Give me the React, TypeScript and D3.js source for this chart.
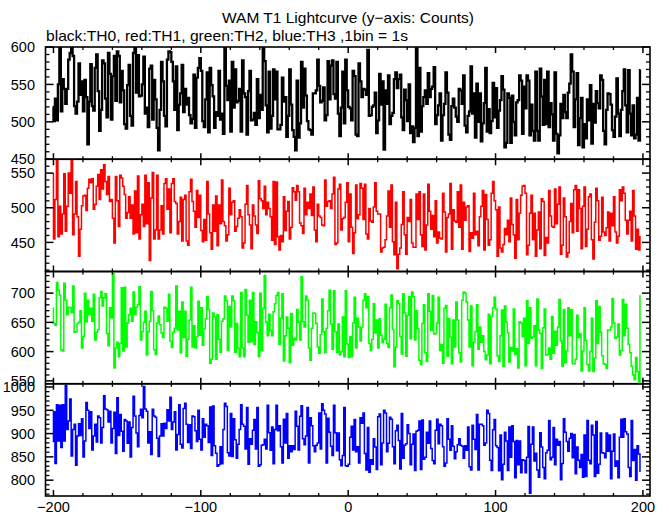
import React from 'react';
import * as d3 from 'd3';

// ---- data (1 s bins, first bin starts at -201 s) ----
const binStart = -201;
const binWidth = 1;

const th0 = [
520,501,531,502,550,600,514,557,544,524, 544,583,592,600,588,521,511,527,578,536,
554,514,556,533,470,527,577,521,515,572, 590,541,488,516,582,578,531,506,592,564,
503,561,588,528,594,588,526,568,542,497, 491,549,576,508,495,592,600,539,589,534,
535,550,587,511,519,493,571,575,503,556, 530,492,462,516,580,554,508,494,583,594,
593,580,554,516,574,489,523,538,576,513, 544,523,532,509,498,504,563,492,559,572,
585,568,501,493,530,566,486,572,549,534, 492,513,508,568,503,511,484,600,548,529,
555,487,580,519,570,526,528,544,487,582, 538,533,483,541,568,502,503,512,496,557,
505,536,516,598,581,522,486,567,491,508, 570,530,567,490,490,496,559,527,533,480,
508,570,523,489,480,462,555,479,498,580, 519,571,535,501,490,489,483,538,538,542,
583,548,526,528,546,502,509,581,530,575, 582,537,531,580,511,481,519,567,498,583,
542,520,518,502,568,561,483,481,578,554, 533,544,543,536,596,508,509,520,522,539,
485,502,564,523,554,463,542,524,562,497, 508,512,557,566,545,557,563,506,489,543,
529,501,550,485,494,473,492,598,481,572, 487,521,533,542,524,565,533,544,547,573,
497,509,522,538,475,509,524,566,539,483, 476,521,531,519,507,500,544,542,524,562,
495,486,508,514,574,511,538,479,551,500, 538,474,498,525,572,487,517,485,501,552,
506,545,492,515,529,561,543,466,472,538, 532,472,535,500,482,526,529,562,555,484,
547,518,562,555,482,523,488,475,567,488, 475,571,534,496,556,497,567,493,525,510,
475,566,484,458,482,524,505,536,513,505, 539,551,590,567,493,530,565,469,505,532,
466,497,478,530,502,549,471,524,499,541, 525,518,562,556,488,470,516,538,537,523,
489,480,507,558,511,481,516,541,570,522, 486,569,511,482,522,478,483,532,475,569,
];

const th1 = [
549,455,512,570,458,502,462,491,549,466, 502,550,521,570,461,491,538,487,430,469,
503,517,518,496,528,541,536,542,498,505, 531,548,512,555,527,562,538,519,545,509,
512,485,449,545,510,473,547,543,531,519, 485,493,516,485,504,462,524,464,546,455,
490,505,473,547,477,536,424,514,551,455, 468,547,455,468,503,462,535,542,498,527,
464,535,542,509,506,462,480,515,452,512, 518,452,446,523,541,509,495,472,525,486,
518,467,451,483,453,538,491,464,440,504, 466,517,445,504,477,540,480,474,452,461,
528,490,508,510,466,473,485,497,487,442, 449,505,532,490,475,441,504,488,475,463,
539,513,510,499,531,490,508,499,487,453, 538,447,537,458,439,460,451,516,467,495,
509,455,472,529,523,511,532,523,478,474, 463,528,490,508,499,520,489,530,468,451,
505,488,486,475,474,540,502,509,510,499, 520,544,447,449,527,534,468,484,486,508,
536,451,520,472,434,464,533,484,490,535, 528,483,534,462,455,499,481,479,501,536,
495,491,491,436,442,443,454,488,524,472, 533,451,432,508,412,433,442,476,523,461,
433,486,480,512,449,443,443,520,483,523, 461,444,520,439,475,534,495,469,489,458,
510,449,465,456,455,521,494,436,486,491, 535,440,497,481,479,523,472,533,440,508,
482,501,503,437,464,456,521,461,466,445, 487,502,525,439,519,483,446,454,521,538,
510,497,430,501,442,436,447,470,461,482, 451,514,476,461,427,512,454,492,518,531,
532,521,432,446,492,518,454,492,430,468, 494,441,513,509,431,457,449,525,488,473,
472,527,477,505,530,433,446,514,487,429, 435,480,506,464,526,532,466,526,499,441,
502,530,444,469,516,520,454,426,479,528, 510,453,459,515,465,460,471,494,452,492,
474,516,465,449,459,526,510,530,521,482, 462,482,495,452,525,488,440,469,439,458,
];

const th2 = [
674,648,645,718,705,697,603,601,717,688, 663,676,675,667,712,633,634,648,650,670,
606,626,700,651,688,663,674,652,698,620, 633,638,692,703,678,692,699,631,610,675,
658,735,572,606,616,591,614,709,601,710, 608,649,663,674,652,702,663,676,680,711,
620,634,650,669,594,634,652,703,670,603, 595,649,661,646,632,624,676,674,652,698,
618,607,633,640,712,637,669,598,685,624, 669,592,621,654,710,608,644,606,625,686,
628,675,611,639,656,694,672,580,587,666, 659,587,663,621,599,652,656,695,687,602,
677,642,695,687,599,648,606,591,701,606, 591,706,662,616,688,617,701,612,651,633,
591,700,602,674,730,650,627,664,636,627, 668,682,696,701,612,657,699,584,627,659,
640,581,665,611,623,620,672,650,620,728, 651,642,695,688,606,585,640,666,665,648,
608,597,629,690,634,598,640,670,705,647, 604,704,634,599,647,594,600,659,591,704,
613,590,626,591,649,693,606,657,642,618, 642,688,699,675,694,614,602,621,682,632,
654,606,656,628,615,621,681,614,607,675, 697,638,574,608,687,682,626,596,699,666,
592,662,694,622,702,694,620,670,639,585, 578,648,680,598,583,699,669,636,696,630,
631,649,693,602,612,580,674,679,592,656, 625,579,654,608,685,654,598,582,688,702,
700,685,654,608,678,576,616,634,680,604, 642,616,627,600,586,594,664,579,660,675,
693,673,593,583,627,671,575,678,650,632, 582,607,601,673,595,605,572,651,649,626,
657,576,687,614,675,623,625,644,576,690, 637,631,571,641,673,594,595,606,587,660,
597,635,611,642,689,618,575,672,581,601, 675,627,672,579,579,587,662,624,631,567,
601,675,619,578,567,600,657,566,589,687, 614,677,633,593,579,578,571,637,637,642,
691,649,623,625,647,594,602,689,627,681, 640,612,598,575,560,552,590,566,548,695,
];

const th3 = [
883,947,836,962,884,961,870,962,884,1003, 909,927,974,852,909,920,832,895,921,896,
932,850,884,967,950,911,947,865,895,920, 882,938,934,880,913,981,953,951,925,948,
880,911,946,857,977,896,941,905,862,930, 927,879,925,850,913,980,938,901,872,939,
952,934,1001,953,948,880,904,855,952,938, 935,890,851,895,921,895,922,911,951,927,
978,909,925,947,865,898,962,877,869,954, 965,920,881,919,868,938,936,906,883,950,
888,865,932,892,920,917,881,957,853,959, 874,858,830,833,872,835,909,965,958,859,
852,943,851,932,887,847,877,909,962,920, 916,867,956,834,889,877,907,930,867,956,
830,833,875,876,888,867,961,902,864,914, 835,909,961,906,917,872,837,931,880,943,
847,874,861,874,866,948,916,865,937,960, 889,876,895,956,837,934,917,874,861,875,
880,944,867,964,950,942,837,933,903,873, 853,961,902,863,901,844,831,853,956,831,
830,834,892,916,865,930,861,872,837,934, 922,944,857,822,913,817,844,834,889,871,
823,936,942,833,880,950,944,861,879,935, 931,872,835,906,918,885,824,943,847,875,
878,919,900,833,877,899,821,905,907,927, 823,929,845,849,903,879,927,868,842,835,
907,931,878,920,917,872,830,837,932,888, 864,917,873,846,861,876,889,875,873,847,
874,864,914,829,822,918,888,866,941,822, 920,920,917,875,880,950,943,843,821,908,
930,874,870,820,897,801,834,903,884,821, 914,849,917,883,805,885,833,884,816,844,
842,816,849,915,772,877,914,841,858,822, 806,902,871,827,803,859,864,928,844,849,
913,833,888,875,883,801,836,932,903,883, 862,890,900,848,898,814,871,843,827,855,
806,897,808,928,843,835,918,897,808,926, 815,834,901,859,858,848,901,862,897,803,
862,899,830,841,805,892,931,892,932,904, 899,827,808,928,842,866,800,874,856,819,
];

const xMajorTicks = [-200, -100, 0, 100, 200];
const xTickLabels = ['\u2212200', '\u2212100', '0', '100', '200'];
const titleText = 'WAM T1 Lightcurve (y\u2212axis: Counts)';
const subtitleText = 'black:TH0, red:TH1, green:TH2, blue:TH3 ,1bin = 1s';

const panelDomains: [number, number][] = [[450, 600], [408, 570], [545, 737], [766, 1007]];
const panelMajor = [[450, 500, 550, 600], [450, 500, 550], [550, 600, 650, 700], [800, 850, 900, 950, 1000]];
const panelSeries = [th0, th1, th2, th3];
const panelColors = ['#000000', '#ff0000', '#00ff00', '#0000ff'];
const panelWidths = [2.3, 1.5, 1.5, 1.5];

// ---- layout ----
const W = 669, H = 515;
const L = 45.5, R = 650, T = 47, B = 496;
const FONT = '"Liberation Sans", Arial, Helvetica, sans-serif';

export default function App() {
  const x = d3.scaleLinear().domain([-205.4, 204.8]).range([L, R]);
  const ph = (B - T) / 4;
  const xMinor = d3.range(-200, 201, 20).filter(v => !xMajorTicks.includes(v));

  const panels = panelSeries.map((vals, p) => {
    const top = T + p * ph;
    const bot = top + ph;
    const dom = panelDomains[p];
    const y = d3.scaleLinear().domain(dom).range([bot, top]);
    const line = d3.line<number>()
      .x((_, i) => x(binStart + i * binWidth + binWidth / 2))
      .y(v => y(v))
      .curve(d3.curveStep);
    const minor = d3.range(Math.ceil(dom[0] / 10) * 10, dom[1] + 0.01, 10)
      .filter(v => !panelMajor[p].includes(v));
    return { p, top, bot, y, d: line(vals) || '', minor, major: panelMajor[p] };
  });

  const yMajLen = 8, yMinLen = 4, xMajLen = 6, xMinLen = 3;

  return (
    <svg width={W} height={H} style={{ position: 'absolute', left: 0, top: 0, background: '#fff' }}
      fontFamily={FONT}>
      <rect x={0} y={0} width={W} height={H} fill="#fff" />
      <defs>
        {panels.map(pn => (
          <clipPath id={`clip${pn.p}`} key={pn.p}>
            <rect x={L} y={pn.top} width={R - L} height={ph} />
          </clipPath>
        ))}
      </defs>
      <text x={348} y={23} fontSize={15} textAnchor="middle" textLength={252} lengthAdjust="spacingAndGlyphs">{titleText}</text>
      <text x={46} y={41} fontSize={15} textLength={362} lengthAdjust="spacingAndGlyphs">{subtitleText}</text>

      {panels.map(pn => (
        <g key={pn.p}>
          <path d={pn.d} fill="none" stroke={panelColors[pn.p]} strokeWidth={panelWidths[pn.p]}
            strokeLinejoin="miter" clipPath={`url(#clip${pn.p})`} />
          {pn.major.map(v => (
            <g key={'M' + v}>
              <line x1={L} x2={L + yMajLen} y1={pn.y(v)} y2={pn.y(v)} stroke="#000" strokeWidth={1.5} />
              <line x1={R} x2={R - yMajLen} y1={pn.y(v)} y2={pn.y(v)} stroke="#000" strokeWidth={1.5} />
              <text x={35} y={pn.y(v)} dy="0.36em" textAnchor="end" fontSize={14.5}>{String(v)}</text>
            </g>
          ))}
          {pn.minor.map(v => (
            <g key={'m' + v}>
              <line x1={L} x2={L + yMinLen} y1={pn.y(v)} y2={pn.y(v)} stroke="#000" strokeWidth={1.3} />
              <line x1={R} x2={R - yMinLen} y1={pn.y(v)} y2={pn.y(v)} stroke="#000" strokeWidth={1.3} />
            </g>
          ))}
          {xMajorTicks.map(v => (
            <g key={'xM' + v}>
              <line x1={x(v)} x2={x(v)} y1={pn.top} y2={pn.top + xMajLen} stroke="#000" strokeWidth={1.5} />
              <line x1={x(v)} x2={x(v)} y1={pn.bot} y2={pn.bot - xMajLen} stroke="#000" strokeWidth={1.5} />
            </g>
          ))}
          {xMinor.map(v => (
            <g key={'xm' + v}>
              <line x1={x(v)} x2={x(v)} y1={pn.top} y2={pn.top + xMinLen} stroke="#000" strokeWidth={1.3} />
              <line x1={x(v)} x2={x(v)} y1={pn.bot} y2={pn.bot - xMinLen} stroke="#000" strokeWidth={1.3} />
            </g>
          ))}
          <rect x={L} y={pn.top} width={R - L} height={ph} fill="none" stroke="#000" strokeWidth={1.6} />
        </g>
      ))}

      {xMajorTicks.map((v, i) => (
        <text key={'xl' + v} x={x(v)} y={512} textAnchor="middle" fontSize={14.5}>{xTickLabels[i]}</text>
      ))}
    </svg>
  );
}
